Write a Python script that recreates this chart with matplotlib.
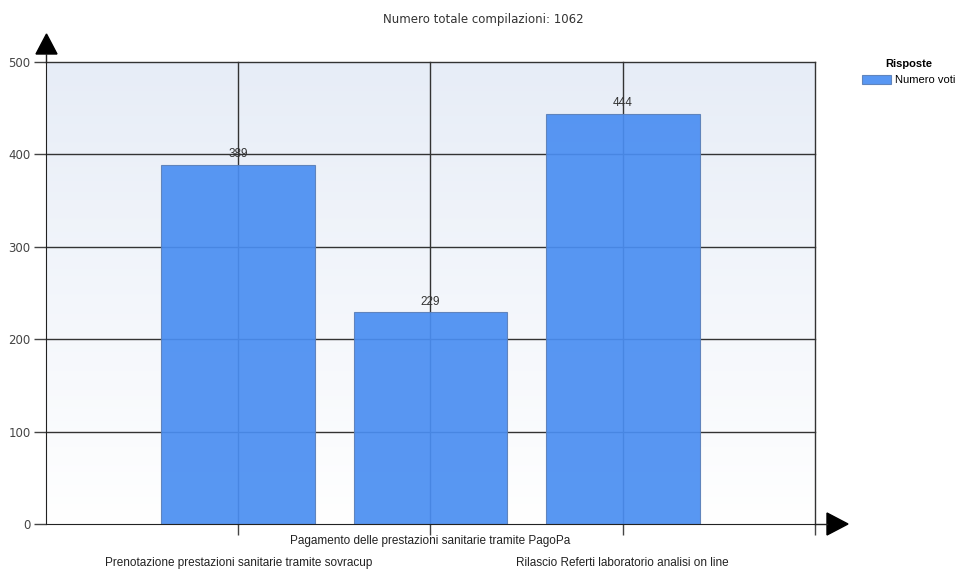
import numpy as np
import matplotlib
matplotlib.use("Agg")
import matplotlib.pyplot as plt
from matplotlib.patches import Polygon

categories = [
    "Prenotazione prestazioni sanitarie tramite sovracup",
    "Pagamento delle prestazioni sanitarie tramite PagoPa",
    "Rilascio Referti laboratorio analisi on line",
]
votes = [389, 229, 444]
y_ticks = [0, 100, 200, 300, 400, 500]
title = "Numero totale compilazioni: 1062"
series_name = "Numero voti"
legend_title = "Risposte"

W, H = 966, 570
fig = plt.figure(figsize=(W / 100, H / 100), dpi=100)
L, R, B, T = 46, 815, 524, 62
ax = fig.add_axes([L / W, 1 - B / H, (R - L) / W, (B - T) / H])

plt.rcParams["font.family"] = ["Liberation Sans", "DejaVu Sans"]

x = np.arange(1, len(categories) + 1)
ax.set_xlim(0, len(categories) + 1)
ax.set_ylim(0, 500)

# soft blue-to-white background gradient
grad = np.linspace(0, 1, 256).reshape(-1, 1)
top = np.array([0.905, 0.929, 0.969])
bot = np.array([1.0, 1.0, 1.0])
img = bot + (top - bot) * grad
ax.imshow(img[:, None, :].repeat(2, axis=1), extent=[0, len(categories) + 1, 0, 500],
          origin="lower", aspect="auto", zorder=0)

# grid
for yv in y_ticks[1:]:
    ax.axhline(yv, color="#333333", lw=1.0, zorder=1, clip_on=False)
for xv in list(x) + [len(categories) + 1]:
    ax.axvline(xv, color="#333333", lw=1.0, zorder=1, clip_on=False)

bars = ax.bar(x, votes, width=0.8, color="#4a8ef2", alpha=0.92,
              edgecolor="#5a7fb8", linewidth=0.8, zorder=2, label=series_name)
for xi, v in zip(x, votes):
    ax.text(xi, v + 5, str(v), ha="center", va="bottom", fontsize=8.5,
            color="#333333", zorder=4)

for s in ["top", "right"]:
    ax.spines[s].set_visible(False)
ax.spines["left"].set_color("#222222")
ax.spines["bottom"].set_color("#222222")
ax.spines["left"].set_zorder(5)
ax.spines["bottom"].set_zorder(5)

ax.set_yticks(y_ticks)
ax.set_yticklabels([str(t) for t in y_ticks], fontsize=8.5, color="#444444")
ax.tick_params(axis="y", length=9, width=1, color="#444444", pad=2)
ax.set_xticks(list(x) + [len(categories) + 1])
ax.set_xticklabels([""] * (len(categories) + 1))
ax.tick_params(axis="x", length=8, width=1, color="#444444")

# staggered category labels (offsets in pixels below the x axis)
for i, (xi, lab) in enumerate(zip(x, categories)):
    yoff = -17 if i % 2 == 1 else -39
    ax.annotate(lab, xy=(xi, 0), xycoords="data", xytext=(0, yoff),
                textcoords="offset pixels", ha="center", va="center",
                fontsize=8.5, color="#222222", annotation_clip=False)

# axis arrows
def px(xp, yp):
    return (xp / W, 1 - yp / H)

fig.add_artist(Polygon([px(36, 54), px(57, 54), px(46.5, 34)], closed=True,
                       transform=fig.transFigure, color="black"))
fig.add_artist(Polygon([px(827, 513), px(827, 535), px(848, 524)], closed=True,
                       transform=fig.transFigure, color="black"))
fig.add_artist(plt.Line2D([L / W, L / W], [1 - T / H, 1 - 54 / H],
                          transform=fig.transFigure, color="#222222", lw=1))
fig.add_artist(plt.Line2D([R / W, 827 / W], [1 - B / H, 1 - B / H],
                          transform=fig.transFigure, color="#222222", lw=1))

fig.text(483 / W, 1 - 20 / H, title, ha="center", va="center",
         fontsize=8.5, color="#333333", family="DejaVu Sans")

leg = fig.legend(handles=[bars], labels=[series_name], title=legend_title,
                 loc="upper left", bbox_to_anchor=(858 / W, 1 - 55 / H),
                 frameon=False, fontsize=8, handlelength=2.6, handleheight=0.9,
                 borderaxespad=0, handletextpad=0.3)
leg.get_title().set_fontweight("bold")
leg.get_title().set_fontsize(8)
leg._legend_box.align = "center"

fig.savefig("out.png", dpi=100)
